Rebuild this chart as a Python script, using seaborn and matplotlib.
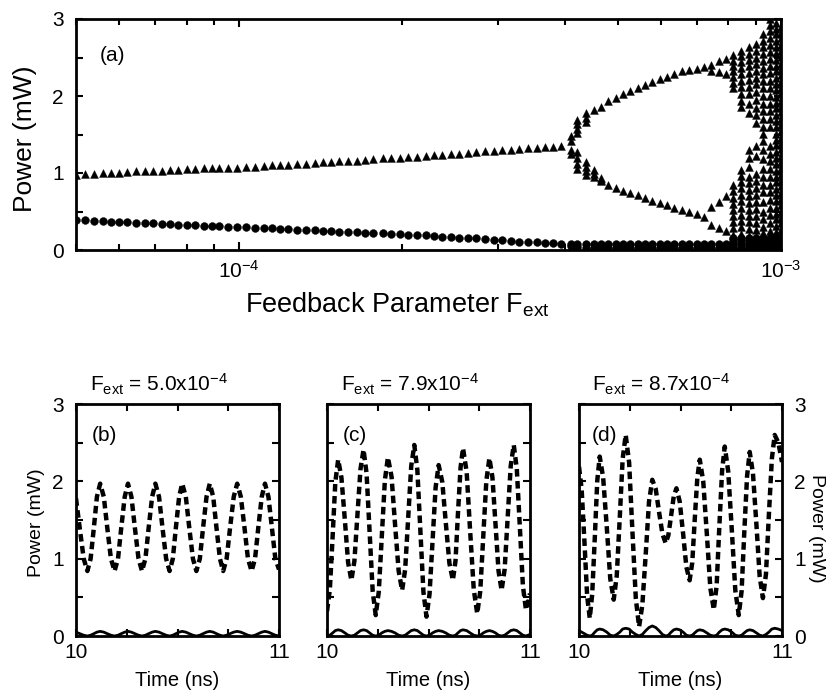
import matplotlib
matplotlib.use("Agg")
import matplotlib.pyplot as plt
import pandas as pd
import seaborn as sns
from matplotlib.ticker import LogLocator, MultipleLocator, NullFormatter, LogFormatterSciNotation

# ---------------- data: panel (a), F in units of 1e-5 ----------------
F_stable = [5.0, 5.2, 5.4, 5.6, 5.8, 6.0, 6.2, 6.45, 6.7, 6.95, 7.2, 7.45, 7.7, 8.0, 8.3,
            8.6, 8.9, 9.2, 9.55, 9.9, 10.3, 10.7, 11.1, 11.5, 11.9, 12.3, 12.8, 13.3, 13.8,
            14.3, 14.8, 15.3, 15.9, 16.5, 17.1, 17.7, 18.4, 19.1, 19.8, 20.5, 21.3, 22.1,
            22.9, 23.7, 24.6, 25.5, 26.4, 27.4, 28.4, 29.5, 30.6, 31.7, 32.9, 34.1, 35.4,
            36.7, 38.0, 39.3]
tri_stable = [0.98, 0.985, 0.99, 0.995, 1.00, 1.005, 1.01, 1.02, 1.02, 1.03, 1.03, 1.04, 1.04,
              1.05, 1.05, 1.06, 1.06, 1.06, 1.07, 1.07, 1.08, 1.08, 1.09, 1.10, 1.10, 1.11,
              1.12, 1.12, 1.13, 1.14, 1.14, 1.15, 1.16, 1.16, 1.17, 1.18, 1.19, 1.19, 1.20,
              1.21, 1.21, 1.22, 1.23, 1.24, 1.25, 1.25, 1.26, 1.27, 1.28, 1.29, 1.30, 1.30,
              1.31, 1.32, 1.33, 1.34, 1.34, 1.35]
circ_stable = [0.39, 0.385, 0.38, 0.375, 0.37, 0.365, 0.36, 0.355, 0.35, 0.345, 0.34, 0.335,
               0.33, 0.325, 0.32, 0.315, 0.31, 0.31, 0.305, 0.30, 0.295, 0.29, 0.285, 0.28,
               0.275, 0.27, 0.265, 0.26, 0.255, 0.25, 0.245, 0.24, 0.235, 0.23, 0.225, 0.22,
               0.215, 0.21, 0.205, 0.20, 0.195, 0.19, 0.18, 0.175, 0.17, 0.16, 0.155, 0.15,
               0.14, 0.135, 0.125, 0.12, 0.11, 0.105, 0.10, 0.09, 0.085, 0.08]

F_trans = [40.9, 42.1, 43.7, 45.1, 46.6]
tri_trans = [[1.48, 1.42, 1.30, 1.25],
             [1.69, 1.63, 1.57, 1.52, 1.27, 1.20, 1.12, 1.05],
             [1.78, 1.72, 1.66, 1.14, 1.08, 1.02, 0.97],
             [1.04, 0.95],
             [0.94, 0.89]]

F_p2 = [45.1, 46.6, 48.0, 49.5, 51.0, 52.7, 54.5, 56.2, 57.9, 59.7, 61.6, 63.5, 65.7, 67.7,
        69.9, 72.1]
tri_upper = [1.82, 1.86, 1.93, 1.97, 2.02, 2.06, 2.11, 2.14, 2.18, 2.22, 2.25, 2.29, 2.32,
             2.34, 2.35, 2.38]
tri_lower = [0.99, 0.91, 0.85, 0.81, 0.77, 0.74, 0.71, 0.67, 0.64, 0.61, 0.58, 0.55, 0.52,
             0.49, 0.47, 0.43]

F_p4 = [74.4, 76.8, 79.2]
tri_p4 = [[2.40, 2.32, 0.56, 0.33],
          [2.45, 2.31, 0.62, 0.29],
          [2.48, 2.28, 0.70, 0.25]]

F_band = [40.9, 42.1, 43.7, 45.1, 46.6, 48.0, 49.5, 51.0, 52.7, 54.5, 56.2, 57.9, 59.7, 61.6,
          63.5, 65.7, 67.7, 69.9, 72.1, 74.4, 76.8, 79.2]
circ_band_hi = [0.075, 0.08, 0.08, 0.08, 0.08, 0.08, 0.08, 0.075, 0.075, 0.075, 0.075, 0.075,
                0.075, 0.075, 0.075, 0.075, 0.075, 0.075, 0.08, 0.08, 0.08, 0.08]
circ_band_lo = [0.05, 0.035, 0.03, 0.03, 0.03, 0.03, 0.03, 0.03, 0.03, 0.03, 0.03, 0.03, 0.03,
                0.03, 0.03, 0.03, 0.03, 0.03, 0.03, 0.03, 0.03, 0.03]

F_chaos = [81.7, 84.4, 87.2, 90.0, 92.8, 95.6, 98.0, 100.0]
tri_chaos = [
    [2.53, 2.46, 2.39, 2.32, 2.25, 2.17, 2.10, 0.84, 0.76, 0.68, 0.60, 0.52, 0.44, 0.36, 0.28,
     0.19],
    [2.59, 2.52, 2.44, 2.36, 2.28, 2.20, 2.12, 2.02, 1.94, 1.86, 1.04, 0.96, 0.88, 0.80, 0.72,
     0.64, 0.55, 0.46, 0.38, 0.30, 0.21, 0.13],
    [2.63, 2.55, 2.47, 2.39, 2.30, 2.21, 2.12, 2.02, 1.90, 1.78, 1.30, 1.20, 1.08, 0.95, 0.87,
     0.78, 0.70, 0.61, 0.52, 0.44, 0.36, 0.27, 0.18, 0.10],
    [2.67, 2.59, 2.50, 2.42, 2.33, 2.24, 2.15, 2.05, 1.95, 1.85, 1.75, 1.65, 1.35, 1.22, 0.99,
     0.90, 0.81, 0.72, 0.62, 0.53, 0.44, 0.35, 0.26, 0.17, 0.09],
    [2.80, 2.72, 2.63, 2.55, 2.46, 2.37, 2.28, 2.19, 2.10, 2.00, 1.90, 1.80, 1.70, 1.60, 1.51,
     1.42, 1.30, 1.18, 1.05, 0.95, 0.85, 0.75, 0.62, 0.50, 0.40, 0.30, 0.22, 0.12],
    [3.00, 2.92, 2.84, 2.75, 2.66, 2.57, 2.48, 2.39, 2.30, 2.20, 2.10, 2.00, 1.90, 1.80, 1.70,
     1.60, 1.35, 1.25, 1.15, 1.05, 0.95, 0.85, 0.75, 0.65, 0.55, 0.45, 0.35, 0.25, 0.15, 0.07],
    [2.95, 2.87, 2.80, 2.71, 2.63, 2.56, 2.47, 2.39, 2.32, 2.23, 2.15, 2.08, 1.99, 1.91, 1.84,
     1.75, 1.67, 1.60, 1.51, 1.43, 1.36, 1.27, 1.19, 1.12, 1.03, 0.95, 0.88, 0.79, 0.71, 0.64,
     0.55, 0.47, 0.40, 0.31, 0.23, 0.16, 0.07],
    [2.90, 2.82, 2.75, 2.66, 2.58, 2.51, 2.42, 2.34, 2.27, 2.18, 2.10, 2.03, 1.94, 1.86, 1.79,
     1.70, 1.62, 1.55, 1.46, 1.38, 1.31, 1.22, 1.14, 1.07, 0.98, 0.90, 0.83, 0.74, 0.66, 0.59,
     0.50, 0.42, 0.35, 0.26, 0.18, 0.11, 0.03],
]
circ_chaos = [0.16, 0.12, 0.08, 0.04, 0.01]

# ---------------- data: panels (b)-(d) ----------------
b_time = [10.000, 10.019, 10.038, 10.056, 10.072, 10.088, 10.103, 10.119, 10.137, 10.154,
          10.172, 10.190, 10.207, 10.223, 10.240, 10.256, 10.273, 10.290, 10.308, 10.325,
          10.342, 10.358, 10.375, 10.391, 10.409, 10.426, 10.444, 10.461, 10.477, 10.492,
          10.508, 10.523, 10.541, 10.558, 10.576, 10.593, 10.610, 10.626, 10.643, 10.659,
          10.676, 10.692, 10.709, 10.725, 10.742, 10.759, 10.777, 10.794, 10.812, 10.830,
          10.847, 10.865, 10.882, 10.898, 10.915, 10.931, 10.948, 10.965, 10.982, 11.000]
b_dash = [1.78, 1.38, 1.00, 0.84,
          1.00, 1.40, 1.80, 1.97, 1.80, 1.40, 1.00, 0.84,
          1.00, 1.40, 1.80, 1.97, 1.80, 1.40, 1.00, 0.84,
          1.00, 1.40, 1.80, 1.97, 1.80, 1.40, 1.00, 0.84,
          1.00, 1.40, 1.80, 1.97, 1.80, 1.40, 1.00, 0.84,
          1.00, 1.40, 1.80, 1.97, 1.80, 1.40, 1.00, 0.84,
          1.00, 1.40, 1.80, 1.97, 1.80, 1.40, 1.00, 0.84,
          1.00, 1.40, 1.80, 1.97, 1.80, 1.40, 1.00, 0.86]
b_solid = [0.05, 0.03, 0.01, 0.00,
           0.01, 0.03, 0.05, 0.06, 0.05, 0.03, 0.01, 0.00,
           0.01, 0.03, 0.05, 0.06, 0.05, 0.03, 0.01, 0.00,
           0.01, 0.03, 0.05, 0.06, 0.05, 0.03, 0.01, 0.00,
           0.01, 0.03, 0.05, 0.06, 0.05, 0.03, 0.01, 0.00,
           0.01, 0.03, 0.05, 0.06, 0.05, 0.03, 0.01, 0.00,
           0.01, 0.03, 0.05, 0.06, 0.05, 0.03, 0.01, 0.00,
           0.01, 0.03, 0.05, 0.06, 0.05, 0.03, 0.01, 0.00]

c_time = [10.000, 10.014, 10.028, 10.041, 10.055,
          10.071, 10.088, 10.104, 10.120, 10.135, 10.150, 10.165, 10.180,
          10.195, 10.210, 10.225, 10.240, 10.255, 10.270, 10.285, 10.300,
          10.318, 10.335, 10.353, 10.370, 10.385, 10.400, 10.415, 10.430,
          10.445, 10.460, 10.475, 10.490, 10.505, 10.520, 10.535, 10.550,
          10.568, 10.585, 10.603, 10.620, 10.633, 10.645, 10.658, 10.670,
          10.688, 10.705, 10.723, 10.740, 10.755, 10.770, 10.785, 10.800,
          10.815, 10.830, 10.845, 10.860, 10.875, 10.890, 10.905, 10.920,
          10.935, 10.950, 10.965, 10.980, 10.990, 11.000]
c_dash = [0.32, 0.60, 1.30, 1.99, 2.28,
          2.05, 1.50, 0.95, 0.72, 0.97, 1.57, 2.16, 2.41,
          2.10, 1.34, 0.58, 0.27, 0.57, 1.29, 2.01, 2.31,
          2.06, 1.45, 0.84, 0.59, 0.86, 1.53, 2.20, 2.47,
          2.15, 1.36, 0.57, 0.25, 0.54, 1.23, 1.92, 2.21,
          1.99, 1.47, 0.94, 0.72, 0.97, 1.58, 2.18, 2.43,
          2.12, 1.36, 0.60, 0.29, 0.58, 1.30, 2.01, 2.30,
          2.05, 1.45, 0.84, 0.59, 0.86, 1.53, 2.20, 2.47,
          2.16, 1.41, 0.65, 0.34, 0.40, 0.55]
c_solid = [0.00, 0.01, 0.04, 0.07, 0.08,
           0.07, 0.04, 0.01, 0.00, 0.01, 0.04, 0.07, 0.08,
           0.07, 0.04, 0.01, 0.00, 0.01, 0.04, 0.06, 0.07,
           0.06, 0.04, 0.01, 0.00, 0.01, 0.04, 0.07, 0.08,
           0.07, 0.04, 0.01, 0.00, 0.01, 0.04, 0.06, 0.07,
           0.06, 0.04, 0.01, 0.00, 0.01, 0.04, 0.07, 0.08,
           0.07, 0.04, 0.01, 0.00, 0.01, 0.04, 0.06, 0.07,
           0.06, 0.04, 0.01, 0.00, 0.01, 0.04, 0.07, 0.08,
           0.07, 0.04, 0.01, 0.00, 0.01, 0.02]

d_time = [10.000, 10.013, 10.027, 10.040, 10.053,
          10.065, 10.078, 10.090, 10.102, 10.119, 10.137, 10.154, 10.171,
          10.186, 10.201, 10.215, 10.230, 10.247, 10.263, 10.280, 10.296,
          10.312, 10.329, 10.345, 10.361, 10.378, 10.394, 10.411, 10.427,
          10.440, 10.454, 10.467, 10.480, 10.496, 10.513, 10.529, 10.545,
          10.558, 10.570, 10.583, 10.595, 10.612, 10.630, 10.647, 10.664,
          10.678, 10.691, 10.705, 10.718, 10.735, 10.753, 10.770, 10.787,
          10.801, 10.814, 10.828, 10.841, 10.857, 10.874, 10.890, 10.906,
          10.921, 10.935, 10.950, 10.964, 10.982, 11.000]
d_dash = [2.19, 1.90, 1.21, 0.52, 0.23,
          0.54, 1.28, 2.01, 2.32, 2.05, 1.40, 0.74, 0.47,
          0.78, 1.54, 2.29, 2.60, 2.24, 1.36, 0.48, 0.12,
          0.40, 1.07, 1.74, 2.02, 1.90, 1.61, 1.32, 1.20,
          1.30, 1.56, 1.81, 1.91, 1.74, 1.32, 0.89, 0.72,
          0.95, 1.50, 2.05, 2.28, 2.00, 1.31, 0.62, 0.34,
          0.65, 1.40, 2.14, 2.45, 2.13, 1.36, 0.59, 0.27,
          0.58, 1.33, 2.07, 2.38, 2.10, 1.44, 0.77, 0.49,
          0.80, 1.55, 2.29, 2.60, 2.50, 2.25]
d_solid = [0.07, 0.05, 0.03, 0.01, 0.00,
           0.01, 0.05, 0.08, 0.09, 0.08, 0.05, 0.01, 0.00,
           0.02, 0.05, 0.09, 0.10, 0.09, 0.05, 0.02, 0.00,
           0.02, 0.07, 0.11, 0.13, 0.11, 0.07, 0.02, 0.00,
           0.01, 0.05, 0.08, 0.09, 0.08, 0.05, 0.01, 0.00,
           0.01, 0.04, 0.07, 0.08, 0.07, 0.04, 0.01, 0.00,
           0.01, 0.05, 0.08, 0.09, 0.08, 0.05, 0.01, 0.00,
           0.01, 0.04, 0.07, 0.08, 0.07, 0.04, 0.01, 0.00,
           0.02, 0.05, 0.09, 0.10, 0.09, 0.07]

titles = [r"$\mathregular{F_{ext}}$ = 5.0x10$^{\mathregular{-4}}$",
          r"$\mathregular{F_{ext}}$ = 7.9x10$^{\mathregular{-4}}$",
          r"$\mathregular{F_{ext}}$ = 8.7x10$^{\mathregular{-4}}$"]
letters = ["(b)", "(c)", "(d)"]

# ---------------- style ----------------
sns.set_theme(style="ticks")
plt.rcParams["font.family"] = ["Liberation Sans", "DejaVu Sans"]
plt.rcParams["mathtext.fontset"] = "custom"
plt.rcParams["mathtext.rm"] = "Liberation Sans"
plt.rcParams["mathtext.it"] = "Liberation Sans:italic"
plt.rcParams["mathtext.bf"] = "Liberation Sans:bold"
plt.rcParams["axes.linewidth"] = 2.0
for key in ["text.color", "axes.labelcolor", "axes.edgecolor", "xtick.color", "ytick.color"]:
    plt.rcParams[key] = "black"

fig = plt.figure(figsize=(8.28, 6.94), dpi=100)
W, H = 828.0, 694.0


def box(l, t, r, b):
    return [l / W, 1 - b / H, (r - l) / W, (b - t) / H]


# ---------------- panel (a) ----------------
rows = []
for f, t, c in zip(F_stable, tri_stable, circ_stable):
    rows.append((f, t, "tri"))
    rows.append((f, c, "circ"))
for f, vals in zip(F_trans, tri_trans):
    rows += [(f, v, "tri") for v in vals]
for f, u, lo in zip(F_p2, tri_upper, tri_lower):
    rows.append((f, u, "tri"))
    rows.append((f, lo, "tri"))
for f, vals in zip(F_p4, tri_p4):
    rows += [(f, v, "tri") for v in vals]
for f, h, lo in zip(F_band, circ_band_hi, circ_band_lo):
    rows.append((f, h, "circ"))
    rows.append((f, lo, "circ"))
for f, vals in zip(F_chaos, tri_chaos):
    rows += [(f, v, "tri") for v in vals]
    rows += [(f, v, "circ") for v in circ_chaos]
df = pd.DataFrame(rows, columns=["F1e5", "P", "kind"])
df["F"] = df["F1e5"] * 1e-5

axa = fig.add_axes(box(76, 19, 781, 250))
sns.scatterplot(data=df[df.kind == "circ"], x="F", y="P", marker="o", s=32, color="black",
                edgecolor="black", linewidth=0.3, ax=axa, legend=False)
sns.scatterplot(data=df[df.kind == "tri"], x="F", y="P", marker="^", s=32, color="black",
                edgecolor="black", linewidth=0.3, ax=axa, legend=False)
axa.set_xscale("log")
axa.set_xlim(5e-5, 1e-3)
axa.set_ylim(0, 3)
axa.set_xlabel("")
axa.set_ylabel("")
axa.xaxis.set_major_locator(LogLocator(base=10, numticks=10))
axa.xaxis.set_major_formatter(LogFormatterSciNotation())
axa.xaxis.set_minor_locator(LogLocator(base=10, subs=range(2, 10), numticks=20))
axa.xaxis.set_minor_formatter(NullFormatter())
axa.yaxis.set_major_locator(MultipleLocator(1))
axa.yaxis.set_minor_locator(MultipleLocator(0.5))
axa.tick_params(which="both", direction="in", top=True, right=True, width=1.5,
                labelsize=15, colors="black")
axa.tick_params(axis="x", which="major", length=6, pad=7)
axa.tick_params(axis="x", which="minor", length=4)
axa.tick_params(axis="y", which="both", length=5, pad=9)
axa.text(0.034, 0.84, "(a)", transform=axa.transAxes, fontsize=15, ha="left", va="center")
fig.text(25 / W, 1 - 139 / H, "Power (mW)", rotation=90, fontsize=19, ha="center",
         va="center")
fig.text(397 / W, 1 - 305 / H, r"Feedback Parameter $\mathregular{F_{ext}}$", fontsize=19.5,
         ha="center", va="center")

# ---------------- panels (b)-(d) ----------------
lefts = [76, 327, 579]
series = [(b_time, b_dash, b_solid), (c_time, c_dash, c_solid), (d_time, d_dash, d_solid)]
for i, (l, (tt, dv, sv)) in enumerate(zip(lefts, series)):
    ax = fig.add_axes(box(l, 404, l + 203, 636))
    sns.lineplot(x=tt, y=dv, ax=ax, color="black", linewidth=3.2, estimator=None,
                 sort=False, linestyle=(0, (1.7, 1.0)))
    sns.lineplot(x=tt, y=sv, ax=ax, color="black", linewidth=2.0, estimator=None,
                 sort=False)
    ax.set_xlim(10, 11)
    ax.set_ylim(0, 3)
    ax.set_xticks([10, 10.25, 10.5, 10.75, 11])
    ax.set_xticklabels(["10", "", "", "", "11"])
    ax.yaxis.set_major_locator(MultipleLocator(1))
    ax.yaxis.set_minor_locator(MultipleLocator(0.5))
    ax.tick_params(which="both", direction="in", top=True, right=True, width=1.5,
                   labelsize=15, colors="black")
    ax.tick_params(axis="x", which="major", length=5, pad=5)
    ax.tick_params(axis="y", which="both", length=5, pad=9)
    if i == 0:
        ax.set_yticks([0, 1, 2, 3])
    elif i == 1:
        ax.tick_params(axis="y", labelleft=False)
    else:
        ax.tick_params(axis="y", labelleft=False, labelright=True)
    ax.set_xlabel("")
    ax.set_ylabel("")
    ax.text(0.07 if i < 2 else 0.064, 1.03, titles[i], transform=ax.transAxes, fontsize=15,
            ha="left", va="bottom")
    ax.text(0.08 if i < 2 else 0.064, 0.866, letters[i], transform=ax.transAxes,
            fontsize=15, ha="left", va="center")
    fig.text((l + 101.5) / W, 1 - 680 / H, "Time (ns)", fontsize=14.5, ha="center",
             va="center")

fig.text(37 / W, 1 - 523 / H, "Power (mW)", rotation=90, fontsize=14, ha="center",
         va="center")
fig.text(817 / W, 1 - 528 / H, "Power (mW)", rotation=270, fontsize=14, ha="center",
         va="center")

fig.savefig("out.png", dpi=100)
